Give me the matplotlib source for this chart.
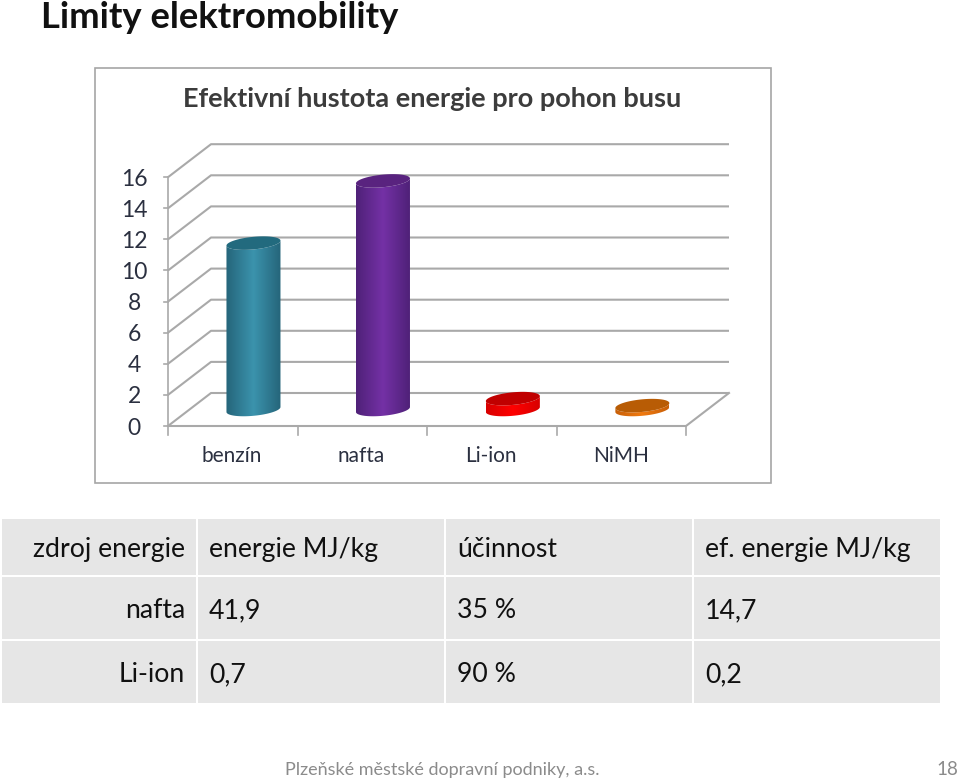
import numpy as np
import matplotlib
matplotlib.use("Agg")
import matplotlib.pyplot as plt
from matplotlib.patches import Rectangle, Polygon
from matplotlib.colors import LinearSegmentedColormap

# ---------- data ----------
categories = ["benzín", "nafta", "Li-ion", "NiMH"]
values = [10.7, 14.7, 0.7, 0.25]
yticks = [0, 2, 4, 6, 8, 10, 12, 14, 16]
table_rows = [["zdroj energie", "energie MJ/kg", "účinnost", "ef. energie MJ/kg"],
              ["nafta", "41,9", "35 %", "14,7"],
              ["Li-ion", "0,7", "90 %", "0,2"]]
title = "Limity elektromobility"
chart_title = "Efektivní hustota energie pro pohon busu"
footer = "Plzeňské městské dopravní podniky, a.s."
page = "18"

# ---------- styles ----------
body_edge = ["#25657a", "#4f2178", "#d80000", "#c85f08"]
body_mid = ["#3b93ad", "#7431a6", "#ff0000", "#f07a10"]
top_col = ["#226a7e", "#59237f", "#c00000", "#b85c05"]
FONT = "Lato"
W, H = 960, 779
plt.rcParams["font.family"] = [FONT, "DejaVu Sans"]

fig = plt.figure(figsize=(W / 100, H / 100), dpi=100, facecolor="white")

# page layer in pixel coordinates
pg = fig.add_axes([0, 0, 1, 1])
pg.set_xlim(0, W); pg.set_ylim(H, 0); pg.axis("off")
pg.text(41, 27.5, title, fontsize=26.3, fontweight="bold", color="#111111", va="baseline", ha="left")
pg.add_patch(Rectangle((94.5, 67.5), 676, 415, fc="white", ec="#a6a6a6", lw=1.2))
pg.text(432, 107, chart_title, fontsize=19.5, fontweight="bold", color="#3c3c3c", va="baseline", ha="center")

# table
col_x = [(2, 196), (198, 444), (446, 692), (694, 940)]
row_y = [(519, 575), (577, 639), (641, 703)]
row_base = [557, 618, 682]
for r, (y0, y1) in enumerate(row_y):
    for c, (x0, x1) in enumerate(col_x):
        pg.add_patch(Rectangle((x0, y0), x1 - x0, y1 - y0, fc="#e6e6e6", ec="none"))
        tx, ha = (x1 - 11, "right") if c == 0 else (x0 + 11, "left")
        pg.text(tx, row_base[r], table_rows[r][c], fontsize=19.2, color="#111111", ha=ha, va="baseline")
pg.text(285, 775, footer, fontsize=13, color="#8b8b8b", ha="left", va="baseline")
pg.text(958, 775, page, fontsize=13.5, color="#8b8b8b", ha="right", va="baseline")

# chart layer: front plane from pixel (168,426), 129.5 px/category, 15.55 px/unit
X0, Y0, SX, SY = 168, 426, 129.5, 15.55
DX, DY = 43 / SX, 33 / SY      # depth offset in data units
xmax, ymax = 4 + DX, 16 + DY
ax = fig.add_axes([X0 / W, 1 - Y0 / H, xmax * SX / W, ymax * SY / H])
ax.set_xlim(0, xmax); ax.set_ylim(0, ymax)
ax.patch.set_alpha(0)
for s in ax.spines.values():
    s.set_visible(False)
ax.set_xticks([]); ax.set_yticks([])

grid = "#a9a9a9"
for v in yticks:
    ax.plot([0, DX, 4 + DX], [v, v + DY, v + DY], color=grid, lw=1.5, clip_on=False, solid_capstyle="butt", zorder=1)
    ax.plot([-0.03, 0], [v, v], color=grid, lw=1.2, clip_on=False, zorder=1)
    ax.text(-0.262, v - 0.13, str(v), ha="center", va="center", fontsize=16.5, color="#2b3040", clip_on=False)
ax.plot([0, 4, 4 + DX], [0, 0, DY], color=grid, lw=1.5, clip_on=False, zorder=1)
ax.plot([0, 0], [0, 16], color=grid, lw=1.2, clip_on=False, zorder=1)
for i in range(5):
    ax.plot([i, i], [0, -0.6], color=grid, lw=1.2, clip_on=False, zorder=1)
for i, cat in enumerate(categories):
    ax.text(i + 0.5 - 0.005, -1.95, cat, ha="center", va="center", fontsize=15, color="#2b3040", clip_on=False)

# cylinders
RX, RY, TILT = 27 / SX, 6.3 / SY, 4.5 / SY   # half width, half height, rise across half width (data units)
t = np.linspace(0, 2 * np.pi, 121)
for i, v in enumerate(values):
    xc = i + 0.66 + (0.0 if i < 2 else 0.003)
    base = DY / 2
    ex = RX * np.cos(t)
    ey = RY * np.sin(t) + TILT * 0.55 * np.cos(t)
    top_y = base + v
    lower = (t >= np.pi) & (t <= 2 * np.pi)
    body = np.vstack([
        np.column_stack([xc + ex[lower], base + ey[lower]]),
        np.column_stack([xc + ex[lower][::-1], top_y + ey[lower][::-1]]),
    ])
    cmap = LinearSegmentedColormap.from_list("c", [body_edge[i], body_mid[i], body_edge[i]])
    im = ax.imshow(np.linspace(0, 1, 128).reshape(1, -1), cmap=cmap, aspect="auto",
                   extent=(xc - RX, xc + RX, base - RY - TILT, top_y + RY + TILT), zorder=3)
    im.set_clip_path(Polygon(body, closed=True, transform=ax.transData))
    ax.add_patch(Polygon(np.column_stack([xc + ex, top_y + ey]), closed=True, fc=top_col[i], ec="none", zorder=4))
ax.set_xlim(0, xmax); ax.set_ylim(0, ymax)

fig.savefig("out.png", dpi=100, facecolor="white")
